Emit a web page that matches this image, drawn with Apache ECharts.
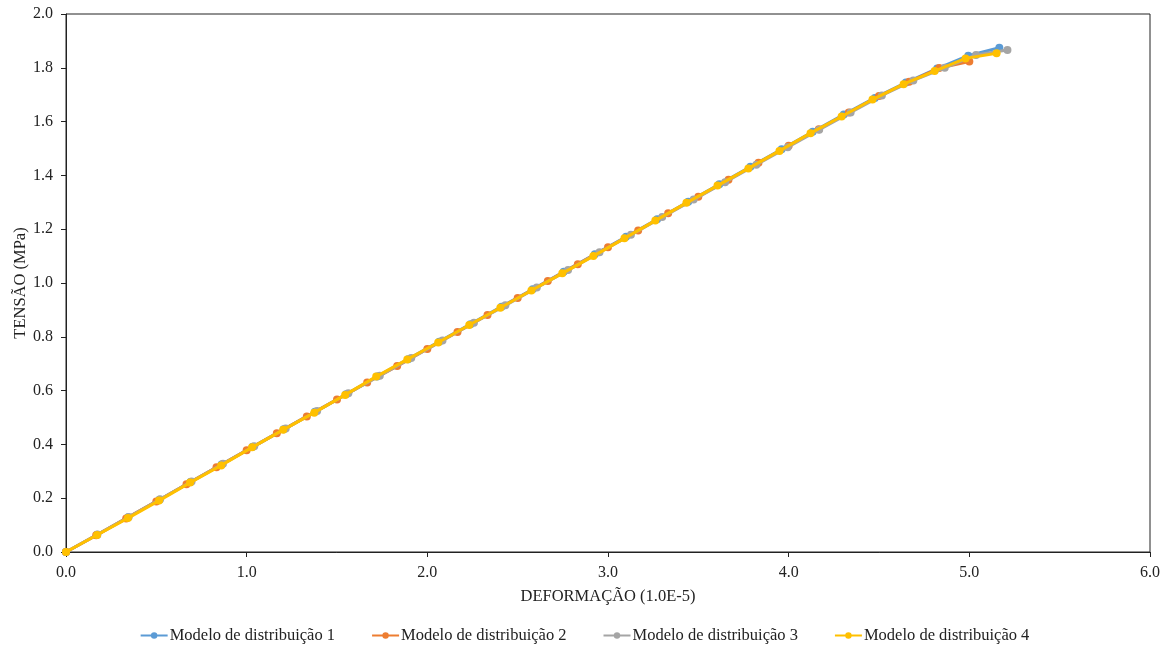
<!DOCTYPE html>
<html>
<head>
<meta charset="utf-8">
<script src="https://cdn.jsdelivr.net/npm/echarts@6/dist/echarts.min.js"></script>
<style>
  html, body { margin: 0; padding: 0; background: #fff; }
  #chart { width: 1169px; height: 646px; }
</style>
</head>
<body>
<div id="chart"></div>
<script>
// series names
const seriesNames = [
  'Modelo de distribuição 1',
  'Modelo de distribuição 2',
  'Modelo de distribuição 3',
  'Modelo de distribuição 4'
];

// deformação (1.0E-5) values
const x1 = [0, 0.172, 0.344, 0.517, 0.689, 0.861, 1.033, 1.205, 1.378, 1.550, 1.722, 1.894, 2.066, 2.239, 2.411, 2.583, 2.755, 2.927, 3.100, 3.272, 3.444, 3.616, 3.788, 3.961, 4.133, 4.305, 4.477, 4.649, 4.822, 4.994, 5.166];
const y1 = [0, 0.064, 0.129, 0.194, 0.260, 0.325, 0.391, 0.456, 0.521, 0.586, 0.652, 0.717, 0.782, 0.847, 0.912, 0.977, 1.042, 1.107, 1.172, 1.237, 1.302, 1.367, 1.432, 1.497, 1.562, 1.626, 1.688, 1.745, 1.797, 1.845, 1.875];

const x2 = [0, 0.167, 0.333, 0.500, 0.667, 0.833, 1.000, 1.167, 1.333, 1.500, 1.667, 1.833, 2.000, 2.167, 2.333, 2.500, 2.667, 2.833, 3.000, 3.167, 3.333, 3.500, 3.667, 3.833, 4.000, 4.167, 4.333, 4.500, 4.667, 4.833, 5.000];
const y2 = [0, 0.062, 0.125, 0.188, 0.252, 0.315, 0.378, 0.441, 0.504, 0.567, 0.630, 0.691, 0.755, 0.818, 0.881, 0.944, 1.007, 1.070, 1.133, 1.195, 1.259, 1.321, 1.384, 1.447, 1.510, 1.572, 1.634, 1.695, 1.748, 1.799, 1.823];

const x3 = [0, 0.174, 0.347, 0.521, 0.695, 0.869, 1.042, 1.216, 1.390, 1.563, 1.737, 1.911, 2.084, 2.258, 2.432, 2.606, 2.779, 2.953, 3.127, 3.300, 3.474, 3.648, 3.821, 3.995, 4.169, 4.343, 4.516, 4.690, 4.864, 5.037, 5.211];
const y3 = [0, 0.065, 0.130, 0.196, 0.262, 0.328, 0.393, 0.459, 0.524, 0.590, 0.655, 0.721, 0.786, 0.852, 0.917, 0.983, 1.048, 1.114, 1.179, 1.245, 1.310, 1.375, 1.440, 1.505, 1.570, 1.634, 1.697, 1.753, 1.800, 1.848, 1.866];

const x4 = [0, 0.172, 0.343, 0.515, 0.687, 0.859, 1.030, 1.202, 1.374, 1.545, 1.717, 1.889, 2.060, 2.232, 2.404, 2.576, 2.747, 2.919, 3.091, 3.262, 3.434, 3.606, 3.777, 3.949, 4.121, 4.293, 4.464, 4.636, 4.808, 4.979, 5.151];
const y4 = [0, 0.063, 0.126, 0.191, 0.258, 0.322, 0.389, 0.454, 0.518, 0.584, 0.652, 0.716, 0.779, 0.844, 0.908, 0.972, 1.036, 1.100, 1.166, 1.232, 1.298, 1.362, 1.426, 1.491, 1.557, 1.619, 1.682, 1.739, 1.788, 1.835, 1.854];

const colors = ['#5B9BD5', '#ED7D31', '#A5A5A5', '#FFC000'];

const xs = [x1, x2, x3, x4];
const ys = [y1, y2, y3, y4];

const chart = echarts.init(document.getElementById('chart'));

const fontFam = '"Liberation Serif", "Times New Roman", serif';

const seriesArr = seriesNames.map((name, k) => {
  return {
    name: name,
    type: 'line',
    data: xs[k].map((v, i) => [v, ys[k][i]]),
    symbol: 'circle',
    symbolSize: 8,
    showSymbol: true,
    lineStyle: { width: 3, color: colors[k] },
    itemStyle: { color: colors[k] },
    z: 2 + k
  };
});

chart.setOption({
  animation: false,
  color: colors,
  textStyle: { fontFamily: fontFam },
  grid: {
    left: 66,
    right: 19,
    top: 14,
    bottom: 94,
    show: true,
    borderColor: '#222',
    borderWidth: 1,
    containLabel: false,
    outerBoundsMode: 'none'
  },
  xAxis: {
    type: 'value',
    min: 0,
    max: 6,
    interval: 1,
    name: 'DEFORMAÇÃO (1.0E-5)',
    nameLocation: 'middle',
    nameGap: 36,
    nameMoveOverlap: false,
    nameTextStyle: { color: '#222', fontSize: 16.5, fontFamily: fontFam },
    axisLine: { show: true, lineStyle: { color: '#222', width: 1 } },
    axisTick: { show: true, inside: false, length: 5, lineStyle: { color: '#222' } },
    axisLabel: {
      color: '#222',
      fontSize: 16,
      fontFamily: fontFam,
      margin: 13,
      formatter: v => v.toFixed(1)
    },
    splitLine: { show: false }
  },
  yAxis: {
    type: 'value',
    min: 0,
    max: 2,
    interval: 0.2,
    name: 'TENSÃO (MPa)',
    nameLocation: 'middle',
    nameGap: 37,
    nameMoveOverlap: false,
    nameRotate: 90,
    nameTextStyle: { color: '#222', fontSize: 16.5, fontFamily: fontFam },
    axisLine: { show: true, lineStyle: { color: '#222', width: 1 } },
    axisTick: { show: true, inside: false, length: 5, lineStyle: { color: '#222' } },
    axisLabel: {
      color: '#222',
      fontSize: 16,
      fontFamily: fontFam,
      margin: 13,
      formatter: v => v.toFixed(1)
    },
    splitLine: { show: false }
  },
  legend: {
    top: 622,
    left: 'center',
    itemWidth: 27,
    itemHeight: 8,
    itemGap: 36,
    textStyle: { color: '#222', fontSize: 16.5, fontFamily: fontFam, padding: [0, 0, 0, -3] },
    data: seriesNames
  },
  series: seriesArr
});
</script>
</body>
</html>
